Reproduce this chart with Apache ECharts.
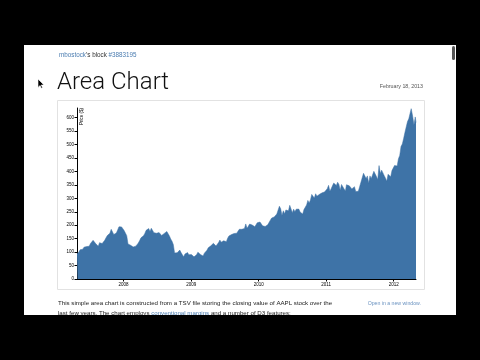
<!DOCTYPE html>
<html>
<head>
<meta charset="utf-8">
<script src="https://cdn.jsdelivr.net/npm/echarts@6/dist/echarts.min.js"></script>
<style>
html,body{margin:0;padding:0;background:#000;}
#chart{width:480px;height:360px;}
</style>
</head>
<body>
<div id="chart"></div>
<script>
// AAPL closing price (approx. weekly), 2007-04-24 .. 2012-05-01
var dates = [
'2007-04-24','2007-04-27','2007-05-04','2007-05-11','2007-05-18','2007-05-25','2007-06-01','2007-06-08','2007-06-15','2007-06-22','2007-06-29',
'2007-07-06','2007-07-13','2007-07-20','2007-07-27','2007-08-03','2007-08-10','2007-08-17','2007-08-24','2007-08-31','2007-09-07','2007-09-14',
'2007-09-21','2007-09-28','2007-10-05','2007-10-12','2007-10-19','2007-10-26','2007-11-02','2007-11-09','2007-11-16','2007-11-23','2007-11-30',
'2007-12-07','2007-12-14','2007-12-21','2007-12-28',
'2008-01-04','2008-01-11','2008-01-18','2008-01-25','2008-02-01','2008-02-08','2008-02-15','2008-02-22','2008-02-29','2008-03-07','2008-03-14',
'2008-03-20','2008-03-28','2008-04-04','2008-04-11','2008-04-18','2008-04-25','2008-05-02','2008-05-09','2008-05-16','2008-05-23','2008-05-30',
'2008-06-06','2008-06-13','2008-06-20','2008-06-27','2008-07-03','2008-07-11','2008-07-18','2008-07-25','2008-08-01','2008-08-08','2008-08-15',
'2008-08-22','2008-08-29','2008-09-05','2008-09-12','2008-09-19','2008-09-26','2008-10-03','2008-10-10','2008-10-17','2008-10-24','2008-10-31',
'2008-11-07','2008-11-14','2008-11-21','2008-11-28','2008-12-05','2008-12-12','2008-12-19','2008-12-26',
'2009-01-02','2009-01-09','2009-01-16','2009-01-23','2009-01-30','2009-02-06','2009-02-13','2009-02-20','2009-02-27','2009-03-06','2009-03-13',
'2009-03-20','2009-03-27','2009-04-03','2009-04-09','2009-04-17','2009-04-24','2009-05-01','2009-05-08','2009-05-15','2009-05-22','2009-05-29',
'2009-06-05','2009-06-12','2009-06-19','2009-06-26','2009-07-02','2009-07-10','2009-07-17','2009-07-24','2009-07-31','2009-08-07','2009-08-14',
'2009-08-21','2009-08-28','2009-09-04','2009-09-11','2009-09-18','2009-09-25','2009-10-02','2009-10-09','2009-10-16','2009-10-23','2009-10-30',
'2009-11-06','2009-11-13','2009-11-20','2009-11-27','2009-12-04','2009-12-11','2009-12-18','2009-12-24','2009-12-31',
'2010-01-08','2010-01-15','2010-01-22','2010-01-29','2010-02-05','2010-02-12','2010-02-19','2010-02-26','2010-03-05','2010-03-12','2010-03-19',
'2010-03-26','2010-04-01','2010-04-09','2010-04-16','2010-04-23','2010-04-30','2010-05-07','2010-05-14','2010-05-21','2010-05-28','2010-06-04',
'2010-06-11','2010-06-18','2010-06-25','2010-07-02','2010-07-09','2010-07-16','2010-07-23','2010-07-30','2010-08-06','2010-08-13','2010-08-20',
'2010-08-27','2010-09-03','2010-09-10','2010-09-17','2010-09-24','2010-10-01','2010-10-08','2010-10-15','2010-10-22','2010-10-29','2010-11-05',
'2010-11-12','2010-11-19','2010-11-26','2010-12-03','2010-12-10','2010-12-17','2010-12-23','2010-12-31',
'2011-01-07','2011-01-14','2011-01-21','2011-01-28','2011-02-04','2011-02-11','2011-02-18','2011-02-25','2011-03-04','2011-03-11','2011-03-18',
'2011-03-25','2011-04-01','2011-04-08','2011-04-15','2011-04-21','2011-04-29','2011-05-06','2011-05-13','2011-05-20','2011-05-27','2011-06-03',
'2011-06-10','2011-06-17','2011-06-24','2011-07-01','2011-07-08','2011-07-15','2011-07-22','2011-07-29','2011-08-05','2011-08-12','2011-08-19',
'2011-08-26','2011-09-02','2011-09-09','2011-09-16','2011-09-23','2011-09-30','2011-10-07','2011-10-14','2011-10-21','2011-10-28','2011-11-04',
'2011-11-11','2011-11-18','2011-11-25','2011-12-02','2011-12-09','2011-12-16','2011-12-23','2011-12-30',
'2012-01-06','2012-01-13','2012-01-20','2012-01-27','2012-02-03','2012-02-10','2012-02-17','2012-02-24','2012-03-02','2012-03-09','2012-03-16',
'2012-03-23','2012-03-30','2012-04-05','2012-04-09','2012-04-13','2012-04-20','2012-04-27','2012-05-01'
];
var closes = [
93.24,99.92,100.81,108.74,107.80,110.69,118.40,124.49,120.50,123.00,122.04,
132.30,137.73,143.75,143.85,131.85,125.00,122.06,135.30,138.48,131.77,138.81,
144.15,153.47,161.45,167.25,170.42,184.70,187.87,165.37,166.39,171.54,182.22,
194.30,190.39,193.91,199.83,
180.05,172.69,161.36,130.01,133.75,125.48,124.63,119.46,125.02,122.25,126.61,
133.27,143.01,153.08,147.14,161.04,169.73,180.94,183.45,187.62,177.05,188.75,
185.64,172.37,175.27,170.09,170.12,172.58,165.15,162.12,156.66,169.55,175.74,
176.79,169.53,160.18,148.94,140.91,128.24,97.07,96.80,97.40,96.38,107.59,
98.24,90.24,82.58,92.67,94.00,98.27,90.00,85.81,
90.75,90.58,82.33,88.36,90.13,99.72,99.16,91.51,89.31,85.30,95.93,
101.59,106.85,115.99,119.57,123.42,123.90,132.71,129.19,122.42,122.50,135.81,
144.67,136.97,139.48,142.44,140.02,138.52,151.75,159.99,163.39,165.51,166.78,
169.22,170.05,170.31,172.16,185.02,182.37,184.90,190.47,188.05,204.86,188.50,
194.34,204.45,199.92,200.59,193.32,194.67,195.43,209.04,210.73,
211.98,205.93,197.75,192.06,195.46,200.38,201.67,204.62,218.95,226.60,222.25,
230.90,235.97,241.79,247.40,270.83,261.09,235.86,253.82,242.32,256.88,255.96,
253.51,274.07,266.70,246.94,259.62,249.90,259.94,257.25,260.09,249.10,249.64,
241.62,258.77,263.41,275.37,292.32,282.52,294.07,314.74,307.47,300.98,317.13,
308.03,306.73,315.00,317.44,320.56,320.61,323.60,322.56,
336.12,348.48,326.72,336.10,346.50,356.85,350.56,348.16,360.00,351.99,330.01,
351.54,344.56,335.06,327.46,350.70,350.13,346.66,340.50,335.22,337.41,343.44,
325.90,320.26,326.35,343.26,359.71,364.92,393.30,390.48,373.62,383.58,356.03,
383.58,374.05,377.48,400.50,404.30,381.32,369.80,422.00,392.87,404.95,400.24,
384.62,374.94,363.57,389.70,393.62,380.02,403.43,405.00,
422.40,419.81,420.30,447.28,459.68,493.42,502.12,522.41,545.18,545.17,585.57,
596.05,599.55,633.68,636.23,605.23,572.98,603.00,582.13
];
var yTicks = [0,50,100,150,200,250,300,350,400,450,500,550,600];
var xStart = '2007-04-24', xEnd = '2012-05-01';

var seriesData = dates.map(function (d, i) { return [d, closes[i]]; });
var yMax = Math.max.apply(null, closes);

var chart = echarts.init(document.getElementById('chart'), null, {renderer: 'canvas'});
var FONT = 'Helvetica Neue, Liberation Sans, Arial, sans-serif';
var option = {
  animation: false,
  backgroundColor: '#ffffff',
  grid: {left: 77, right: 64, top: 108, bottom: 81, containLabel: false},
  xAxis: {
    type: 'time',
    min: xStart, max: xEnd,
    splitNumber: 5,
    minInterval: 365 * 24 * 3600 * 1000,
    axisLine: {lineStyle: {color: '#000', width: 1}},
    axisTick: {show: true, length: 2.5, lineStyle: {color: '#000'}},
    splitLine: {show: false},
    axisLabel: {
      fontSize: 4.5, color: '#000', fontFamily: FONT, margin: 3,
      showMinLabel: false, showMaxLabel: false,
      formatter: function (v) {
        var d = new Date(v);
        return (d.getMonth() === 0 && d.getDate() === 1) ? String(d.getFullYear()) : '';
      }
    }
  },
  yAxis: {
    type: 'value',
    min: 0, max: yMax, interval: 50,
    axisLine: {show: true, lineStyle: {color: '#000', width: 1}},
    axisTick: {show: true, length: 2.5, lineStyle: {color: '#000'}},
    splitLine: {show: false},
    axisLabel: {
      fontSize: 4.5, color: '#000', fontFamily: FONT, margin: 3,
      showMaxLabel: false,
      formatter: function (v) { return yTicks.indexOf(v) >= 0 ? String(v) : ''; }
    }
  },
  series: [{
    type: 'line',
    data: seriesData,
    symbol: 'none',
    lineStyle: {width: 0.5, color: '#3e73a7'},
    areaStyle: {color: '#3e73a7', opacity: 1}
  }],
  graphic: [
    // iframe border
    {type: 'rect', shape: {x: 57.5, y: 100.5, width: 367, height: 189}, style: {fill: 'none', stroke: '#e2e2e2', lineWidth: 1}, z: -1},
    // y axis title
    {type: 'text', x: 79.5, y: 108, rotation: Math.PI / 2,
      style: {text: 'Price ($)', fontSize: 4.5, fontFamily: FONT, fill: '#000', align: 'right', verticalAlign: 'top'}},
    // header
    {type: 'text', x: 59, y: 55,
      style: {text: '{a|mbostock}{b|\u2019s block }{a|#3883195}', verticalAlign: 'middle',
        rich: {a: {fontSize: 6.3, fontFamily: FONT, fill: '#4a7cb0'}, b: {fontSize: 6.3, fontFamily: FONT, fill: '#333'}}}},
    {type: 'text', x: 57, y: 83,
      style: {text: 'Area Chart', fontSize: 24, fontWeight: 300, fontFamily: 'Helvetica Neue, Roboto, Lato, Liberation Sans, sans-serif', fill: '#111', verticalAlign: 'middle'}},
    {type: 'text', x: 423, y: 87,
      style: {text: 'February 18, 2013', fontSize: 5.3, fontFamily: FONT, fill: '#555', align: 'right', verticalAlign: 'middle'}},
    // paragraph
    {type: 'text', x: 58, y: 303,
      style: {text: 'This simple area chart is constructed from a TSV file storing the closing value of AAPL stock over the',
        fontSize: 6.15, fontFamily: FONT, fill: '#222', verticalAlign: 'middle'}},
    {type: 'text', x: 58, y: 313.5,
      style: {text: '{b|last few years. The chart employs }{a|conventional margins}{b| and a number of D3 features:}', verticalAlign: 'middle',
        rich: {a: {fontSize: 6.15, fontFamily: FONT, fill: '#4a7cb0'}, b: {fontSize: 6.15, fontFamily: FONT, fill: '#222'}}}},
    {type: 'text', x: 421, y: 304,
      style: {text: 'Open in a new window.', fontSize: 5.2, fontFamily: FONT, fill: '#6b93c0', align: 'right', verticalAlign: 'middle'}},
    // black frame bands
    {type: 'rect', shape: {x: 0, y: 0, width: 480, height: 45}, style: {fill: '#000'}, z: 100},
    {type: 'rect', shape: {x: 0, y: 315, width: 480, height: 45}, style: {fill: '#000'}, z: 100},
    {type: 'rect', shape: {x: 0, y: 0, width: 24, height: 360}, style: {fill: '#000'}, z: 100},
    {type: 'rect', shape: {x: 456, y: 0, width: 24, height: 360}, style: {fill: '#000'}, z: 100},
    // scrollbar
    {type: 'rect', shape: {x: 452, y: 46, width: 3, height: 14, r: 1.5}, style: {fill: '#555'}, z: 101},
    // cursor
    {type: 'polygon', shape: {points: [[38, 79], [38, 87.5], [40, 85.5], [41.3, 88.3], [42.5, 87.8], [41.3, 85], [44, 85]]},
      style: {fill: '#000', stroke: '#fff', lineWidth: 0.6}, z: 101}
  ]
};
chart.setOption(option);
</script>
</body>
</html>
